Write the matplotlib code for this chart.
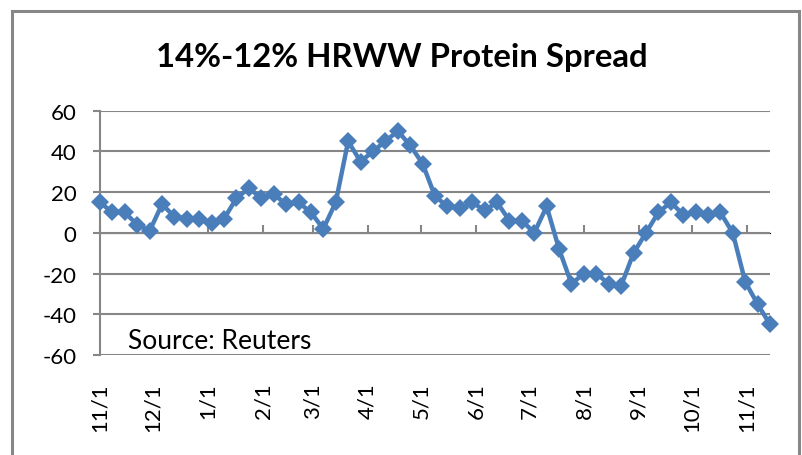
#!/usr/bin/env python
"""Weekly 14%-12% HRWW protein spread, Excel-style line chart."""

import matplotlib

matplotlib.use("Agg")
import matplotlib.dates as mdates
import matplotlib.pyplot as plt
import pandas as pd

WEEKS = [
    "2010-11-01", "2010-11-08", "2010-11-15", "2010-11-22", "2010-11-29",
    "2010-12-06", "2010-12-13", "2010-12-20", "2010-12-27",
    "2011-01-03", "2011-01-10", "2011-01-17", "2011-01-24", "2011-01-31",
    "2011-02-07", "2011-02-14", "2011-02-21", "2011-02-28",
    "2011-03-07", "2011-03-14", "2011-03-21", "2011-03-28",
    "2011-04-04", "2011-04-11", "2011-04-18", "2011-04-25",
    "2011-05-02", "2011-05-09", "2011-05-16", "2011-05-23", "2011-05-30",
    "2011-06-06", "2011-06-13", "2011-06-20", "2011-06-27",
    "2011-07-04", "2011-07-11", "2011-07-18", "2011-07-25",
    "2011-08-01", "2011-08-08", "2011-08-15", "2011-08-22", "2011-08-29",
    "2011-09-05", "2011-09-12", "2011-09-19", "2011-09-26",
    "2011-10-03", "2011-10-10", "2011-10-17", "2011-10-24", "2011-10-31",
    "2011-11-07", "2011-11-14",
]
SPREAD = [
    15, 10, 10, 4, 1, 14, 8, 7, 7, 5, 7, 17, 22, 17, 19, 14, 15, 10, 2,
    15, 45, 35, 40, 45, 50, 43, 34, 18, 13, 12, 15, 11, 15, 6, 6, 0, 13,
    -8, -25, -20, -20, -25, -26, -10, 0, 10, 15, 9, 10, 9, 10, 0, -24,
    -35, -45,
]
MONTH_TICKS = [
    "2010-11-01", "2010-12-01", "2011-01-01", "2011-02-01", "2011-03-01",
    "2011-04-01", "2011-05-01", "2011-06-01", "2011-07-01", "2011-08-01",
    "2011-09-01", "2011-10-01", "2011-11-01",
]
Y_TICKS = [-60, -40, -20, 0, 20, 40, 60]

BLUE = "#4a7ebb"
GRID = "#868686"
FONT = "Lato"


def main() -> None:
    dates = pd.to_datetime(WEEKS)
    ticks = pd.to_datetime(MONTH_TICKS)

    fig = plt.figure(figsize=(8.03, 4.56), dpi=100)
    fig.patch.set_facecolor("white")

    # chart-area border like the Excel export
    border = plt.Rectangle((12 / 803, -0.1), (799 - 12) / 803, 1.1 - 12 / 456,
                           transform=fig.transFigure, fill=False,
                           edgecolor="#878787", linewidth=2.2)
    fig.add_artist(border)

    ax = fig.add_axes([100 / 803, 1 - 356 / 456, 670 / 803, (356 - 111.7) / 456])
    ax.plot(dates, SPREAD, color=BLUE, linewidth=3.2, marker="D",
            markersize=9.5, markeredgewidth=0, zorder=3, clip_on=False)

    ax.set_ylim(-60, 60)
    ax.set_xlim(dates[0], dates[-1])
    ax.set_yticks(Y_TICKS)
    ax.set_yticklabels([str(v) for v in Y_TICKS], fontsize=16, family=FONT)
    ax.grid(axis="y", color=GRID, linewidth=1.5)
    ax.set_axisbelow(True)

    for side in ["top", "right", "bottom"]:
        ax.spines[side].set_visible(False)
    ax.spines["left"].set_color(GRID)
    ax.spines["left"].set_linewidth(1.5)
    ax.tick_params(axis="y", length=5, width=1.5, color=GRID, pad=12)

    # labels sit below the plot, tick marks sit on the zero line
    ax.set_xticks(ticks)
    ax.xaxis.set_major_formatter(mdates.DateFormatter("%m/%d"))
    ax.set_xticklabels([f"{d.month}/{d.day}" for d in ticks], rotation=90,
                       fontsize=16, family=FONT, va="top", ha="center")
    ax.tick_params(axis="x", length=0, pad=19.5)

    zero_axis = ax.secondary_xaxis(0.5)
    zero_axis.set_xticks(ticks)
    zero_axis.set_xticklabels([])
    zero_axis.tick_params(axis="x", direction="out", length=6, width=1.5, color=GRID)
    zero_axis.spines["bottom"].set_color(GRID)
    zero_axis.spines["bottom"].set_linewidth(1.5)

    ax.text(28 / 670, (356 - 341.5) / 244.3, "Source: Reuters", transform=ax.transAxes,
            fontsize=19, family=FONT, ha="left", va="center")

    fig.text(402 / 803, 1 - 57 / 456, "14%-12% HRWW Protein Spread", fontsize=23.7,
             fontweight="bold", family=FONT, ha="center", va="center")

    fig.savefig("out.png", dpi=100)
    plt.close(fig)


if __name__ == "__main__":
    main()
